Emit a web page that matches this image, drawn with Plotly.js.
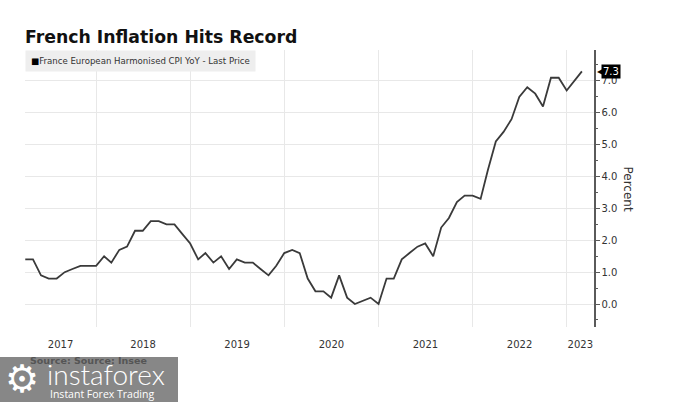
<!DOCTYPE html>
<html>
<head>
<meta charset="utf-8">
<script src="https://cdn.plot.ly/plotly-3.0.1.min.js"></script>
<style>html,body{margin:0;padding:0;background:#fff;}#chart{width:675px;height:402px;}</style>
</head>
<body>
<div id="chart"></div>
<script>
// France European Harmonised CPI YoY, monthly, Mar 2017 - Feb 2023
var startYear = 2017, startMonth = 3;
var values2017 = [1.4, 1.4, 0.9, 0.8, 0.8, 1.0, 1.1, 1.2, 1.2, 1.2];           // Mar-Dec
var values2018 = [1.5, 1.3, 1.7, 1.8, 2.3, 2.3, 2.6, 2.6, 2.5, 2.5, 2.2, 1.9];
var values2019 = [1.4, 1.6, 1.3, 1.5, 1.1, 1.4, 1.3, 1.3, 1.1, 0.9, 1.2, 1.6];
var values2020 = [1.7, 1.6, 0.8, 0.4, 0.4, 0.2, 0.9, 0.2, 0.0, 0.1, 0.2, 0.0];
var values2021 = [0.8, 0.8, 1.4, 1.6, 1.8, 1.9, 1.5, 2.4, 2.7, 3.2, 3.4, 3.4];
var values2022 = [3.3, 4.2, 5.1, 5.4, 5.8, 6.5, 6.8, 6.6, 6.2, 7.1, 7.1, 6.7];
var values2023 = [7.0, 7.3];                                                      // Jan-Feb

var yearLabels = ['2017', '2018', '2019', '2020', '2021', '2022', '2023'];
var seriesName = 'France European Harmonised CPI YoY - Last Price';
var chartTitle = 'French Inflation Hits Record';
var yTitle = 'Percent';
var sourceText = 'Source: Source: Insee';

var xRange = ['2017-03-31', '2023-04-17'];

var values = [].concat(values2017, values2018, values2019, values2020, values2021, values2022, values2023);
var months = [];
for (var i = 0; i < values.length; i++) {
  var mIdx = startMonth - 1 + i;
  var yy = startYear + Math.floor(mIdx / 12);
  var mm = (mIdx % 12) + 1;
  months.push(yy + '-' + (mm < 10 ? '0' + mm : mm));
}
var lastVal = values[values.length - 1];

// year labels centred on the visible part of each year
var r0 = Date.parse(xRange[0]), r1 = Date.parse(xRange[1]);
var tickVals = yearLabels.map(function (y) {
  var a = Math.max(Date.parse(y + '-01-01'), r0);
  var b = Math.min(Date.parse((+y + 1) + '-01-01'), r1);
  return new Date((a + b) / 2).toISOString().slice(0, 10);
});

var font = 'DejaVu Sans, Verdana, sans-serif';

var trace = {
  x: months, y: values, type: 'scatter', mode: 'lines',
  xperiod: 'M1', xperiodalignment: 'end',
  line: {color: '#3a3a3a', width: 1.8},
  name: seriesName, showlegend: false, hoverinfo: 'skip'
};

var layout = {
  width: 675, height: 402,
  margin: {l: 25, r: 81, t: 50, b: 75},
  paper_bgcolor: '#ffffff', plot_bgcolor: '#ffffff',
  showlegend: false,
  title: {
    text: '<b>' + chartTitle + '</b>',
    x: 25 / 675, xanchor: 'left', xref: 'container',
    y: 1 - 37 / 402, yanchor: 'middle', yref: 'container',
    font: {family: font, size: 17.3, color: '#111111'}
  },
  xaxis: {
    type: 'date',
    range: xRange,
    tickmode: 'array', tickvals: tickVals, ticktext: yearLabels,
    showgrid: false,
    minor: {tick0: '2017-01-01', dtick: 'M12', showgrid: true, gridcolor: '#e8e8e8', gridwidth: 1, ticks: ''},
    zeroline: false, showline: false, ticks: '',
    ticklabelstandoff: 10,
    tickfont: {family: font, size: 10, color: '#333333'},
    fixedrange: true
  },
  yaxis: {
    side: 'right',
    range: [-0.72, 7.97],
    tick0: 0, dtick: 1, tickformat: '.1f',
    showgrid: true, gridcolor: '#e8e8e8', gridwidth: 1,
    zeroline: false,
    showline: true, linecolor: '#5a5a5a', linewidth: 1.5,
    ticks: 'outside', ticklen: 4, tickcolor: '#5a5a5a', tickwidth: 1,
    minor: {dtick: 0.5, ticks: 'outside', ticklen: 2, tickcolor: '#5a5a5a', showgrid: false},
    tickfont: {family: font, size: 10, color: '#333333'},
    fixedrange: true
  },
  shapes: [
    {type: 'rect', xref: 'paper', yref: 'paper', layer: 'above',
     x0: -25 / 569, x1: 153 / 569, y0: -30 / 277, y1: -75 / 277,
     fillcolor: 'rgba(125,125,125,0.92)', line: {width: 0}}
  ],
  annotations: [
    {xref: 'paper', yref: 'paper', x: 0, y: 1, xanchor: 'left', yanchor: 'top',
     text: '<span style="color:#000">■</span>' + seriesName, showarrow: false,
     bgcolor: '#eeeeee', borderpad: 5,
     font: {family: font, size: 8.6, color: '#333333'}},
    {xref: 'paper', yref: 'y', x: 1, y: lastVal, xanchor: 'left', yanchor: 'middle',
     xshift: 7, text: lastVal.toFixed(1), showarrow: false,
     bgcolor: '#000000', borderpad: 1,
     font: {family: font, size: 10, color: '#ffffff'}},
    {xref: 'paper', yref: 'y', x: 1, y: lastVal, xanchor: 'left', yanchor: 'middle',
     xshift: 1, text: '◀', showarrow: false,
     font: {family: font, size: 8, color: '#000000'}},
    {xref: 'paper', yref: 'paper', x: 1, y: 0.5, xanchor: 'center', yanchor: 'middle',
     xshift: 34, textangle: 90, text: yTitle, showarrow: false,
     font: {family: font, size: 12, color: '#333333'}},
    {xref: 'paper', yref: 'paper', x: 3 / 569, y: -33 / 277, xanchor: 'left', yanchor: 'middle',
     text: '<b>' + sourceText + '</b>', showarrow: false,
     font: {family: font, size: 9.5, color: '#555555'}},
    {xref: 'paper', yref: 'paper', x: -3 / 569, y: -52 / 277, xanchor: 'center', yanchor: 'middle',
     text: '⚙', showarrow: false,
     font: {family: font, size: 38, color: '#ffffff'}},
    {xref: 'paper', yref: 'paper', x: 20 / 569, y: -47 / 277, xanchor: 'left', yanchor: 'middle',
     text: 'instaforex', showarrow: false,
     font: {family: 'Lato, Open Sans, sans-serif', size: 28, weight: 300, color: '#ffffff'}},
    {xref: 'paper', yref: 'paper', x: 23 / 569, y: -67 / 277, xanchor: 'left', yanchor: 'middle',
     text: 'Instant Forex Trading', showarrow: false,
     font: {family: 'Open Sans, Lato, sans-serif', size: 10.5, color: '#ffffff'}}
  ]
};

Plotly.newPlot('chart', [trace], layout, {displayModeBar: false, staticPlot: true});
</script>
</body>
</html>
